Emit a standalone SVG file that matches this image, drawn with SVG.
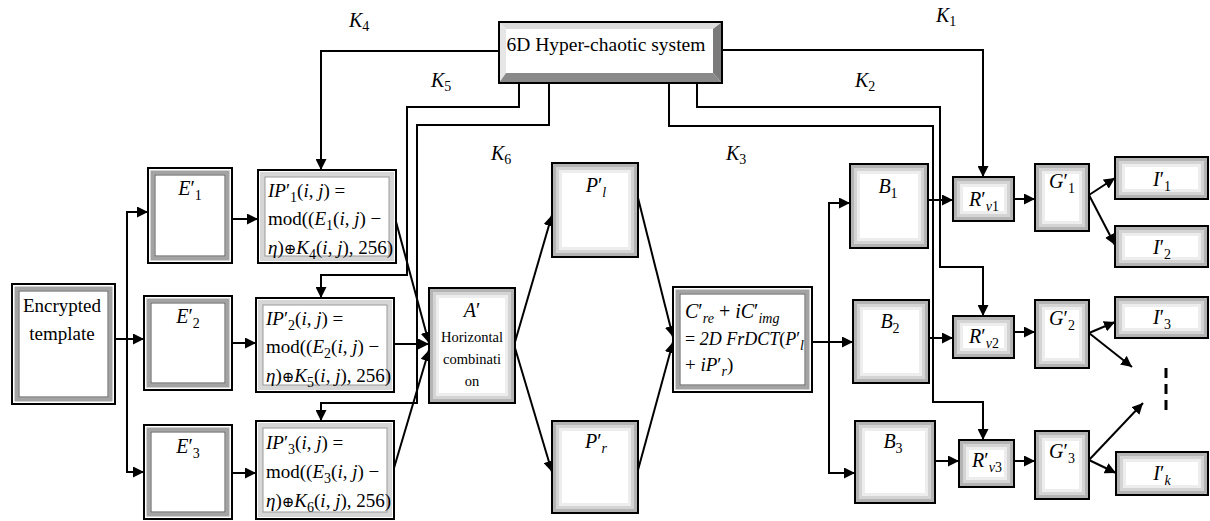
<svg xmlns="http://www.w3.org/2000/svg" width="1210" height="521" viewBox="0 0 1210 521">
<defs>
<style>
.ln{fill:none;stroke:#000;stroke-width:2}
.ar{marker-end:url(#ah)}
.t{font-family:"Liberation Serif","Times New Roman","DejaVu Serif",serif;fill:#000}
.m{font-family:"Liberation Serif","Times New Roman","DejaVu Serif",serif;font-size:20px;fill:#000}
.ip{font-size:19px}
.i{font-style:italic}
.s{font-size:14px}
.op{font-size:15px}
.bx{fill:#fff;stroke:#000;stroke-width:2}
.ol{fill:none;stroke:#000;stroke-width:2}
.g1{fill:none;stroke:#b4b4b4;stroke-width:3}
.g2{fill:none;stroke:#d4d4d4;stroke-width:3}
.g3{fill:none;stroke:#ededed;stroke-width:3}
.band{fill:none;stroke:#a3a3a3;stroke-width:4}
.band2{fill:none;stroke:#d6d6d6;stroke-width:5}
.inl{fill:none;stroke:#555;stroke-width:1}
.inl2{fill:none;stroke:#999;stroke-width:1}
</style>
<marker id="ah" viewBox="0 0 10 10" refX="10" refY="5" markerWidth="11" markerHeight="11" markerUnits="userSpaceOnUse" orient="auto"><path d="M0,0 L10,5 L0,10 z" fill="#000"/></marker>
</defs>
<rect width="1210" height="521" fill="#fff"/>

<g id="connectors">
<path class="ln ar" d="M115,339 H144"/>
<path class="ln ar" d="M127,339 V212 H148"/>
<path class="ln ar" d="M127,339 V472 H144"/>
<path class="ln ar" d="M232,219 H258"/>
<path class="ln ar" d="M232,343 H256"/>
<path class="ln ar" d="M232,473 H256"/>
<path class="ln ar" d="M499,51 H321 V170"/>
<path class="ln ar" d="M519,83 V107 H407 V275 H321 V298"/>
<path class="ln ar" d="M549,83 V125 H417 V403 H321 V421"/>
<path class="ln ar" d="M722,50 H983 V177"/>
<path class="ln ar" d="M697,83 V107 H940 V267 H983 V316"/>
<path class="ln ar" d="M669,83 V126 H933 V402 H983 V440"/>
<path class="ln ar" d="M395,218 L429,343"/>
<path class="ln ar" d="M394,344 H429"/>
<path class="ln ar" d="M394,468 L429,350"/>
<path class="ln ar" d="M515,342 L552,215"/>
<path class="ln ar" d="M515,348 L552,472"/>
<path class="ln ar" d="M638,198 L673,337"/>
<path class="ln ar" d="M638,470 L673,342"/>
<path class="ln ar" d="M812,342 H853"/>
<path class="ln ar" d="M829,342 V203 H850"/>
<path class="ln ar" d="M829,342 V473 H855"/>
<path class="ln ar" d="M928,200 H953"/>
<path class="ln ar" d="M929,338 H953"/>
<path class="ln ar" d="M935,461 H959"/>
<path class="ln ar" d="M1014,199 H1035"/>
<path class="ln ar" d="M1014,332 H1035"/>
<path class="ln ar" d="M1014,461 H1035"/>
<path class="ln ar" d="M1089,195 L1115,178"/>
<path class="ln ar" d="M1089,195 L1115,245"/>
<path class="ln ar" d="M1089,333 L1115,322"/>
<path class="ln ar" d="M1089,333 L1132,367"/>
<path class="ln ar" d="M1089,460 L1143,403"/>
<path class="ln ar" d="M1089,460 L1116,473"/>
<path d="M1166,368 V412" fill="none" stroke="#000" stroke-width="3" stroke-dasharray="10,6"/>
</g>

<g id="keys" class="m">
<text x="349" y="27"><tspan class="i">K</tspan><tspan class="s" dy="4">4</tspan></text>
<text x="936" y="22"><tspan class="i">K</tspan><tspan class="s" dy="4">1</tspan></text>
<text x="431" y="87"><tspan class="i">K</tspan><tspan class="s" dy="4">5</tspan></text>
<text x="855" y="87"><tspan class="i">K</tspan><tspan class="s" dy="4">2</tspan></text>
<text x="491" y="160"><tspan class="i">K</tspan><tspan class="s" dy="4">6</tspan></text>
<text x="726" y="160"><tspan class="i">K</tspan><tspan class="s" dy="4">3</tspan></text>
</g>

<g id="sys">
<rect x="499" y="22" width="223" height="61" fill="#fff"/>
<polygon points="499,22 722,22 713,29 506,29" fill="#dcdcdc"/>
<polygon points="499,22 506,29 506,73 499,83" fill="#e6e6e6"/>
<polygon points="722,22 722,83 713,73 713,29" fill="#7a7a7a"/>
<polygon points="499,83 722,83 713,73 506,73" fill="#8a8a8a"/>
<rect class="ol" x="499" y="22" width="223" height="61"/>
<text x="606" y="51" class="t" font-size="19.5" text-anchor="middle">6D Hyper-chaotic system</text>
</g>

<g id="enc">
<rect class="bx" x="12" y="284" width="103" height="120"/>
<rect class="band" x="16.5" y="288.5" width="94" height="111"/>
<rect class="inl" x="19" y="291" width="89" height="106"/>
<text class="t" font-size="19" text-anchor="middle" x="62" y="312">Encrypted</text>
<text class="t" font-size="19" text-anchor="middle" x="62" y="340">template</text>
</g>

<g id="E1">
<rect class="bx" x="148" y="168" width="84" height="95"/>
<rect class="band" x="152.5" y="172.5" width="75" height="86"/>
<rect class="inl" x="155" y="175" width="70" height="81"/>
<text class="m" x="190" y="195" text-anchor="middle"><tspan class="i">E</tspan>′<tspan class="s" dy="5">1</tspan></text>
</g>
<g id="E2">
<rect class="bx" x="144" y="296" width="88" height="94"/>
<rect class="band" x="148.5" y="300.5" width="79" height="85"/>
<rect class="inl" x="151" y="303" width="74" height="80"/>
<text class="m" x="188" y="323" text-anchor="middle"><tspan class="i">E</tspan>′<tspan class="s" dy="5">2</tspan></text>
</g>
<g id="E3">
<rect class="bx" x="144" y="425" width="88" height="94"/>
<rect class="band" x="148.5" y="429.5" width="79" height="85"/>
<rect class="inl" x="151" y="432" width="74" height="80"/>
<text class="m" x="188" y="453" text-anchor="middle"><tspan class="i">E</tspan>′<tspan class="s" dy="5">3</tspan></text>
</g>

<g id="IP1">
<rect class="bx" x="258" y="170" width="138" height="93"/>
<rect class="band2" x="262.5" y="174.5" width="129" height="84"/>
<rect class="inl2" x="265" y="177" width="124" height="79"/>
<text class="m ip" x="268" y="197"><tspan class="i">IP</tspan>′<tspan class="s" dy="5">1</tspan><tspan dy="-5">(</tspan><tspan class="i">i</tspan>, <tspan class="i">j</tspan>) =</text>
<text class="m ip" x="268" y="225">mod((<tspan class="i">E</tspan><tspan class="s" dy="5">1</tspan><tspan dy="-5">(</tspan><tspan class="i">i</tspan>, <tspan class="i">j</tspan>) −</text>
<text class="m ip" x="268" y="254"><tspan class="i">η</tspan>)<tspan class="op">⊕</tspan><tspan class="i">K</tspan><tspan class="s" dy="5">4</tspan><tspan dy="-5">(</tspan><tspan class="i">i</tspan>, <tspan class="i">j</tspan>), 256)</text>
</g>
<g id="IP2">
<rect class="bx" x="256" y="298" width="138" height="94"/>
<rect class="band2" x="260.5" y="302.5" width="129" height="85"/>
<rect class="inl2" x="263" y="305" width="124" height="80"/>
<text class="m ip" x="266" y="325"><tspan class="i">IP</tspan>′<tspan class="s" dy="5">2</tspan><tspan dy="-5">(</tspan><tspan class="i">i</tspan>, <tspan class="i">j</tspan>) =</text>
<text class="m ip" x="266" y="353">mod((<tspan class="i">E</tspan><tspan class="s" dy="5">2</tspan><tspan dy="-5">(</tspan><tspan class="i">i</tspan>, <tspan class="i">j</tspan>) −</text>
<text class="m ip" x="266" y="382"><tspan class="i">η</tspan>)<tspan class="op">⊕</tspan><tspan class="i">K</tspan><tspan class="s" dy="5">5</tspan><tspan dy="-5">(</tspan><tspan class="i">i</tspan>, <tspan class="i">j</tspan>), 256)</text>
</g>
<g id="IP3">
<rect class="bx" x="256" y="421" width="138" height="98"/>
<rect class="band2" x="260.5" y="425.5" width="129" height="89"/>
<rect class="inl2" x="263" y="428" width="124" height="84"/>
<text class="m ip" x="266" y="449"><tspan class="i">IP</tspan>′<tspan class="s" dy="5">3</tspan><tspan dy="-5">(</tspan><tspan class="i">i</tspan>, <tspan class="i">j</tspan>) =</text>
<text class="m ip" x="266" y="478">mod((<tspan class="i">E</tspan><tspan class="s" dy="5">3</tspan><tspan dy="-5">(</tspan><tspan class="i">i</tspan>, <tspan class="i">j</tspan>) −</text>
<text class="m ip" x="266" y="507"><tspan class="i">η</tspan>)<tspan class="op">⊕</tspan><tspan class="i">K</tspan><tspan class="s" dy="5">6</tspan><tspan dy="-5">(</tspan><tspan class="i">i</tspan>, <tspan class="i">j</tspan>), 256)</text>
</g>

<g id="A">
<rect class="bx" x="429" y="288" width="86" height="115"/>
<rect class="g1" x="431.5" y="290.5" width="81" height="110"/>
<rect class="g2" x="434.5" y="293.5" width="75" height="104"/>
<rect class="g3" x="437.5" y="296.5" width="69" height="98"/>
<rect class="ol" x="429" y="288" width="86" height="115"/>
<text class="m" x="472" y="317" text-anchor="middle"><tspan class="i">A</tspan>′</text>
<text class="t" font-size="14.5" x="472" y="342" text-anchor="middle">Horizontal</text>
<text class="t" font-size="14.5" x="472" y="364" text-anchor="middle">combinati</text>
<text class="t" font-size="14.5" x="472" y="386" text-anchor="middle">on</text>
</g>

<g id="Pl">
<rect class="bx" x="552" y="163" width="86" height="94"/>
<rect class="g1" x="554.5" y="165.5" width="81" height="89"/>
<rect class="g2" x="557.5" y="168.5" width="75" height="83"/>
<rect class="g3" x="560.5" y="171.5" width="69" height="77"/>
<rect class="ol" x="552" y="163" width="86" height="94"/>
<text class="m" x="596" y="192" text-anchor="middle"><tspan class="i">P</tspan>′<tspan class="s i" dy="5">l</tspan></text>
</g>
<g id="Pr">
<rect class="bx" x="552" y="421" width="86" height="92"/>
<rect class="g1" x="554.5" y="423.5" width="81" height="87"/>
<rect class="g2" x="557.5" y="426.5" width="75" height="81"/>
<rect class="g3" x="560.5" y="429.5" width="69" height="75"/>
<rect class="ol" x="552" y="421" width="86" height="92"/>
<text class="m" x="596" y="448" text-anchor="middle"><tspan class="i">P</tspan>′<tspan class="s i" dy="5">r</tspan></text>
</g>

<g id="C">
<rect class="bx" x="673" y="287" width="139" height="105"/>
<rect class="band" x="677.5" y="291.5" width="130" height="96"/>
<rect class="inl" x="680" y="294" width="125" height="91"/>
<text class="m" font-size="19" x="685" y="318"><tspan class="i">C</tspan>′<tspan class="s i" dy="5">re</tspan><tspan dy="-5"> + </tspan><tspan class="i">iC</tspan>′<tspan class="s i" dy="5">img</tspan></text>
<text class="m" style="font-size:18px" x="685" y="345">= <tspan class="i">2D FrDCT</tspan>(<tspan class="i">P</tspan>′<tspan class="s i" dy="5">l</tspan></text>
<text class="m" style="font-size:19px" x="685" y="371">+ <tspan class="i">iP</tspan>′<tspan class="s i" dy="5">r</tspan><tspan dy="-5">)</tspan></text>
</g>

<g id="B1">
<rect class="bx" x="850" y="164" width="78" height="84"/>
<rect class="g1" x="852.5" y="166.5" width="73" height="79"/>
<rect class="g2" x="855.5" y="169.5" width="67" height="73"/>
<rect class="g3" x="858.5" y="172.5" width="61" height="67"/>
<rect class="ol" x="850" y="164" width="78" height="84"/>
<text class="m" x="888" y="193" text-anchor="middle"><tspan class="i">B</tspan><tspan class="s" dy="5">1</tspan></text>
</g>
<g id="B2">
<rect class="bx" x="853" y="300" width="76" height="83"/>
<rect class="g1" x="855.5" y="302.5" width="71" height="78"/>
<rect class="g2" x="858.5" y="305.5" width="65" height="72"/>
<rect class="g3" x="861.5" y="308.5" width="59" height="66"/>
<rect class="ol" x="853" y="300" width="76" height="83"/>
<text class="m" x="890" y="328" text-anchor="middle"><tspan class="i">B</tspan><tspan class="s" dy="5">2</tspan></text>
</g>
<g id="B3">
<rect class="bx" x="855" y="421" width="80" height="82"/>
<rect class="g1" x="857.5" y="423.5" width="75" height="77"/>
<rect class="g2" x="860.5" y="426.5" width="69" height="71"/>
<rect class="g3" x="863.5" y="429.5" width="63" height="65"/>
<rect class="ol" x="855" y="421" width="80" height="82"/>
<text class="m" x="893" y="448" text-anchor="middle"><tspan class="i">B</tspan><tspan class="s" dy="5">3</tspan></text>
</g>

<g id="R1">
<rect class="bx" x="953" y="177" width="61" height="44"/>
<rect class="g1" x="955.5" y="179.5" width="56" height="39"/>
<rect class="g2" x="958.5" y="182.5" width="50" height="33"/>
<rect class="g3" x="961.5" y="185.5" width="44" height="27"/>
<rect class="ol" x="953" y="177" width="61" height="44"/>
<text class="m" x="984" y="206" text-anchor="middle"><tspan class="i">R</tspan>′<tspan class="s" dy="5"><tspan class="i">v</tspan>1</tspan></text>
</g>
<g id="R2">
<rect class="bx" x="953" y="316" width="61" height="42"/>
<rect class="g1" x="955.5" y="318.5" width="56" height="37"/>
<rect class="g2" x="958.5" y="321.5" width="50" height="31"/>
<rect class="g3" x="961.5" y="324.5" width="44" height="25"/>
<rect class="ol" x="953" y="316" width="61" height="42"/>
<text class="m" x="984" y="343" text-anchor="middle"><tspan class="i">R</tspan>′<tspan class="s" dy="5"><tspan class="i">v</tspan>2</tspan></text>
</g>
<g id="R3">
<rect class="bx" x="959" y="440" width="55" height="47"/>
<rect class="g1" x="961.5" y="442.5" width="50" height="42"/>
<rect class="g2" x="964.5" y="445.5" width="44" height="36"/>
<rect class="g3" x="967.5" y="448.5" width="38" height="30"/>
<rect class="ol" x="959" y="440" width="55" height="47"/>
<text class="m" x="987" y="467" text-anchor="middle"><tspan class="i">R</tspan>′<tspan class="s" dy="5"><tspan class="i">v</tspan>3</tspan></text>
</g>

<g id="G1">
<rect class="bx" x="1035" y="164" width="54" height="67"/>
<rect class="g1" x="1037.5" y="166.5" width="49" height="62"/>
<rect class="g2" x="1040.5" y="169.5" width="43" height="56"/>
<rect class="g3" x="1043.5" y="172.5" width="37" height="50"/>
<rect class="ol" x="1035" y="164" width="54" height="67"/>
<text class="m" x="1062" y="188" text-anchor="middle"><tspan class="i">G</tspan>′<tspan class="s" dy="5">1</tspan></text>
</g>
<g id="G2">
<rect class="bx" x="1035" y="300" width="54" height="68"/>
<rect class="g1" x="1037.5" y="302.5" width="49" height="63"/>
<rect class="g2" x="1040.5" y="305.5" width="43" height="57"/>
<rect class="g3" x="1043.5" y="308.5" width="37" height="51"/>
<rect class="ol" x="1035" y="300" width="54" height="68"/>
<text class="m" x="1062" y="325" text-anchor="middle"><tspan class="i">G</tspan>′<tspan class="s" dy="5">2</tspan></text>
</g>
<g id="G3">
<rect class="bx" x="1035" y="431" width="54" height="68"/>
<rect class="g1" x="1037.5" y="433.5" width="49" height="63"/>
<rect class="g2" x="1040.5" y="436.5" width="43" height="57"/>
<rect class="g3" x="1043.5" y="439.5" width="37" height="51"/>
<rect class="ol" x="1035" y="431" width="54" height="68"/>
<text class="m" x="1062" y="458" text-anchor="middle"><tspan class="i">G</tspan>′<tspan class="s" dy="5">3</tspan></text>
</g>

<g id="I1">
<rect class="bx" x="1115" y="157" width="93" height="42"/>
<rect class="g1" x="1117.5" y="159.5" width="88" height="37"/>
<rect class="g2" x="1120.5" y="162.5" width="82" height="31"/>
<rect class="g3" x="1123.5" y="165.5" width="76" height="25"/>
<rect class="ol" x="1115" y="157" width="93" height="42"/>
<text class="m" x="1162" y="186" text-anchor="middle"><tspan class="i">I</tspan>′<tspan class="s" dy="5">1</tspan></text>
</g>
<g id="I2">
<rect class="bx" x="1115" y="226" width="93" height="41"/>
<rect class="g1" x="1117.5" y="228.5" width="88" height="36"/>
<rect class="g2" x="1120.5" y="231.5" width="82" height="30"/>
<rect class="g3" x="1123.5" y="234.5" width="76" height="24"/>
<rect class="ol" x="1115" y="226" width="93" height="41"/>
<text class="m" x="1162" y="254" text-anchor="middle"><tspan class="i">I</tspan>′<tspan class="s" dy="5">2</tspan></text>
</g>
<g id="I3">
<rect class="bx" x="1115" y="297" width="93" height="41"/>
<rect class="g1" x="1117.5" y="299.5" width="88" height="36"/>
<rect class="g2" x="1120.5" y="302.5" width="82" height="30"/>
<rect class="g3" x="1123.5" y="305.5" width="76" height="24"/>
<rect class="ol" x="1115" y="297" width="93" height="41"/>
<text class="m" x="1162" y="324" text-anchor="middle"><tspan class="i">I</tspan>′<tspan class="s" dy="5">3</tspan></text>
</g>
<g id="Ik">
<rect class="bx" x="1116" y="452" width="92" height="43"/>
<rect class="g1" x="1118.5" y="454.5" width="87" height="38"/>
<rect class="g2" x="1121.5" y="457.5" width="81" height="32"/>
<rect class="g3" x="1124.5" y="460.5" width="75" height="26"/>
<rect class="ol" x="1116" y="452" width="92" height="43"/>
<text class="m" x="1162" y="480" text-anchor="middle"><tspan class="i">I</tspan>′<tspan class="s i" dy="5">k</tspan></text>
</g>
</svg>
